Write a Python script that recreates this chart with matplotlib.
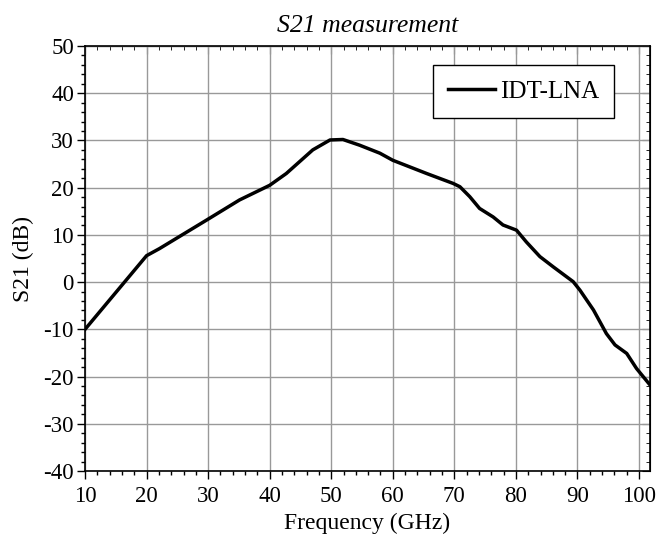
import matplotlib
matplotlib.use("Agg")
import matplotlib.pyplot as plt
import numpy as np

freq = [10, 20, 22.1, 29.7, 35.1, 40, 42.7, 47, 49.8, 51.9, 54.6, 57.9, 60, 65.5,
        69.8, 70.9, 72.5, 74.1, 76.3, 77.9, 80.1, 81.7, 83.9, 86.1, 89.3, 90.4,
        92.6, 94.7, 96.1, 98.0, 99.6, 101.8]
s21 = [-10, 5.6, 7.1, 13.1, 17.4, 20.5, 23, 28, 30.1, 30.2, 29.0, 27.3, 25.8, 23.0,
       20.9, 20.2, 18.1, 15.6, 13.8, 12.1, 11.0, 8.5, 5.4, 3.2, 0.1, -1.7,
       -5.9, -10.9, -13.3, -15.1, -18.3, -21.8]
xticks = [10, 20, 30, 40, 50, 60, 70, 80, 90, 100]
yticks = [-40, -30, -20, -10, 0, 10, 20, 30, 40, 50]

plt.rcParams['font.family'] = ['Liberation Serif', 'DejaVu Serif']
plt.rcParams['axes.unicode_minus'] = False

fig = plt.figure(figsize=(6.56, 5.38), dpi=100)
ax = fig.add_axes([0.1296, 0.1245, 0.8614, 0.79])

ax.plot(freq, s21, color='black', lw=2.5, label='IDT-LNA', solid_joinstyle='round')
ax.set_xlim(10, 101.8)
ax.set_ylim(-40, 50)
ax.set_xticks(xticks)
ax.set_yticks(yticks)
ax.set_xticks(np.arange(10, 102, 2), minor=True)
ax.set_yticks(np.arange(-40, 51, 2), minor=True)
ax.grid(True, which='major', color='#999999', lw=1)
ax.tick_params(which='major', direction='out', length=6, width=1, labelsize=16.5, pad=2)
ax.tick_params(axis='x', which='major', pad=5)
ax.tick_params(which='minor', direction='out', length=3, width=1)
for s in ax.spines.values():
    s.set_linewidth(1.2)

# top / right ticks point inward
top = ax.secondary_xaxis('top')
top.set_xticks(xticks)
top.set_xticks(np.arange(10, 102, 2), minor=True)
top.tick_params(which='major', direction='in', length=6, labeltop=False)
top.tick_params(which='minor', direction='in', length=3)
right = ax.secondary_yaxis('right')
right.set_yticks(yticks)
right.set_yticks(np.arange(-40, 51, 2), minor=True)
right.tick_params(which='major', direction='in', length=6, labelright=False)
right.tick_params(which='minor', direction='in', length=3)

ax.set_xlabel('Frequency (GHz)', fontsize=17, labelpad=4)
ax.set_ylabel('S21 (dB)', fontsize=17, labelpad=7)
ax.set_title('S21 measurement', fontsize=18.5, style='italic', pad=10)

leg = ax.legend(loc='upper right', bbox_to_anchor=(0.937, 0.955), fancybox=False,
                framealpha=1, edgecolor='black', fontsize=18, handlelength=1.9,
                borderpad=0.6, handletextpad=0.2, borderaxespad=0)
leg.get_frame().set_linewidth(1)

fig.savefig('out.png', dpi=100)
